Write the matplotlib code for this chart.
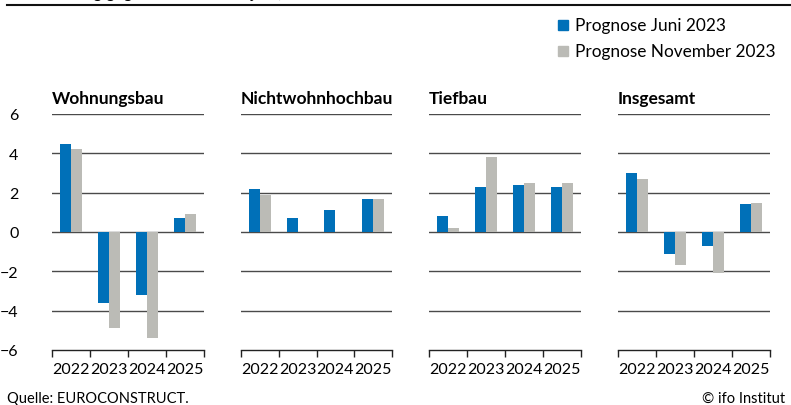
import matplotlib.pyplot as plt
import numpy as np

plt.rcParams['font.family'] = ['Lato', 'DejaVu Sans']

years = ['2022', '2023', '2024', '2025']
sectors = ['Wohnungsbau', 'Nichtwohnhochbau', 'Tiefbau', 'Insgesamt']
series_names = ['Prognose Juni 2023', 'Prognose November 2023']

juni = {
    'Wohnungsbau': [4.5, -3.6, -3.2, 0.7],
    'Nichtwohnhochbau': [2.2, 0.7, 1.1, 1.7],
    'Tiefbau': [0.8, 2.3, 2.4, 2.3],
    'Insgesamt': [3.0, -1.1, -0.7, 1.4],
}
november = {
    'Wohnungsbau': [4.2, -4.9, -5.4, 0.9],
    'Nichtwohnhochbau': [1.9, 0.0, 0.0, 1.7],
    'Tiefbau': [0.2, 3.8, 2.5, 2.5],
    'Insgesamt': [2.7, -1.7, -2.1, 1.5],
}

BLUE = '#0070b8'
GREY = '#bbbbb6'
W, H = 791, 406

fig = plt.figure(figsize=(W / 100, H / 100), dpi=100)

# panel left/right edges in pixels
panel_x = [(52, 204), (241, 392), (429, 581), (618, 770)]
top_px, bot_px = 115, 351

x = np.arange(len(years))
bw = 0.29
for i, (sector, (x0, x1)) in enumerate(zip(sectors, panel_x)):
    ax = fig.add_axes([x0 / W, 1 - bot_px / H, (x1 - x0) / W, (bot_px - top_px) / H])
    ax.bar(x - bw / 2, juni[sector], bw, color=BLUE, zorder=3)
    ax.bar(x + bw / 2, november[sector], bw, color=GREY, zorder=3)
    for yv in [6, 4, 2, 0, -2, -4]:
        ax.axhline(yv, color='#4a4a4a', lw=1.0, zorder=2)
    ax.set_xlim(-0.5, 3.5)
    ax.set_ylim(-6, 6)
    for s in ['top', 'right', 'left']:
        ax.spines[s].set_visible(False)
    ax.spines['bottom'].set_color('#222222')
    ax.spines['bottom'].set_linewidth(1.0)
    ax.set_xticks(x)
    ax.set_xticklabels(years, fontsize=11.5)
    ax.set_xticks(np.arange(-0.5, 4, 1), minor=True)
    ax.tick_params(axis='x', which='major', length=0, pad=9)
    ax.tick_params(axis='x', which='minor', length=5, width=1, color='#222222')
    ax.set_yticks([6, 4, 2, 0, -2, -4, -6])
    if i == 0:
        ax.tick_params(axis='y', length=0, pad=24, labelsize=11.5)
        for lab in ax.get_yticklabels():
            lab.set_horizontalalignment('right')
    else:
        ax.tick_params(axis='y', length=0, labelleft=False)
    ax.set_title(sector, loc='left', fontsize=12.5, fontweight='bold', pad=8)

# legend
fig.patches.append(plt.Rectangle((558 / W, 1 - 31 / H), 10 / W, 10 / H,
                                 transform=fig.transFigure, color=BLUE))
fig.patches.append(plt.Rectangle((558 / W, 1 - 57 / H), 10 / W, 10 / H,
                                 transform=fig.transFigure, color=GREY))
fig.text(575 / W, 1 - 26 / H, series_names[0], fontsize=12.4, va='center')
fig.text(575 / W, 1 - 52 / H, series_names[1], fontsize=12.4, va='center')

# cut-off subtitle and rule at the top
fig.text(7 / W, 1 + 2 / H, 'Veränderung gegenüber dem Vorjahr, in %', fontsize=12, va='baseline')
fig.add_artist(plt.Line2D([7 / W, 1], [1 - 6 / H, 1 - 6 / H], color='#111111', lw=1.5))

fig.text(7 / W, 1 - 399 / H, 'Quelle: EUROCONSTRUCT.', fontsize=10.5, va='center')
fig.text(785 / W, 1 - 399 / H, '© ifo Institut', fontsize=10.5, va='center', ha='right')

fig.savefig('out.png', dpi=100)
